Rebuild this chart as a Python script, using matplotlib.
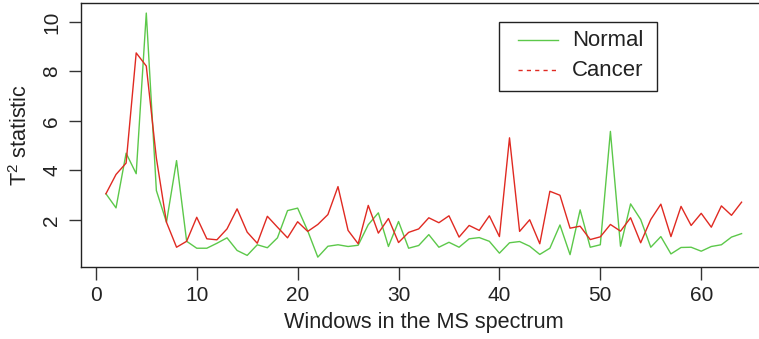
import matplotlib
matplotlib.use("Agg")
import matplotlib.pyplot as plt
from matplotlib.lines import Line2D
from matplotlib.patches import Rectangle
import numpy as np

plt.rcParams['font.family'] = ['Liberation Sans', 'DejaVu Sans']
plt.rcParams['mathtext.fontset'] = 'custom'
plt.rcParams['mathtext.rm'] = 'Liberation Sans'
plt.rcParams['mathtext.default'] = 'regular'

windows = list(range(1, 65))
normal = [3.06, 2.49, 4.70, 3.87, 10.36, 3.19, 1.91, 4.40, 1.14, 0.86,
          0.86, 1.06, 1.28, 0.77, 0.57, 1.00, 0.88, 1.28, 2.38, 2.48,
          1.56, 0.50, 0.94, 1.00, 0.93, 0.98, 1.81, 2.29, 0.93, 1.94,
          0.86, 0.97, 1.41, 0.90, 1.10, 0.90, 1.24, 1.29, 1.14, 0.66,
          1.08, 1.13, 0.94, 0.61, 0.86, 1.80, 0.60, 2.41, 0.90, 1.00,
          5.58, 0.94, 2.65, 2.02, 0.90, 1.33, 0.63, 0.89, 0.90, 0.74,
          0.93, 1.00, 1.31, 1.45]
cancer = [3.06, 3.84, 4.30, 8.75, 8.22, 4.50, 1.91, 0.90, 1.14, 2.11,
          1.24, 1.20, 1.64, 2.45, 1.51, 1.06, 2.15, 1.71, 1.28, 1.93,
          1.54, 1.82, 2.22, 3.35, 1.58, 1.04, 2.59, 1.47, 2.06, 1.09,
          1.50, 1.64, 2.09, 1.89, 2.17, 1.31, 1.78, 1.58, 2.17, 1.33,
          5.32, 1.54, 2.01, 1.04, 3.16, 3.00, 1.67, 1.75, 1.21, 1.32,
          1.82, 1.55, 2.09, 1.08, 2.02, 2.64, 1.33, 2.55, 1.78, 2.27,
          1.71, 2.57, 2.19, 2.72]
series_names = ['Normal', 'Cancer']
xticks = [0, 10, 20, 30, 40, 50, 60]
yticks = [2, 4, 6, 8, 10]

green = '#5cc84a'
red = '#e02a22'
ink = '#222222'

W, H = 759, 339
fig = plt.figure(figsize=(W / 100, H / 100), dpi=100)
left, right, top, bottom = 80.5, 767.0, 3.3, 266.9
ax = fig.add_axes([left / W, 1 - bottom / H, (right - left) / W, (bottom - top) / H])

ax.plot(windows, normal, color=green, lw=1.0)
ax.plot(windows, cancer, color=red, lw=1.0)

xs = np.array(windows)
allv = np.array(normal + cancer)
ax.set_xlim(xs.min() - 0.04 * (xs.max() - xs.min()), xs.max() + 0.04 * (xs.max() - xs.min()))
ax.set_ylim(allv.min() - 0.04 * (allv.max() - allv.min()), allv.max() + 0.04 * (allv.max() - allv.min()))

ax.set_xticks(xticks)
ax.set_yticks(yticks)
ax.set_yticklabels([str(v) for v in yticks], rotation=90, va='center')
ax.tick_params(direction='out', length=9, width=1, color='#333333', labelsize=15,
               labelcolor=ink, pad=5)
ax.tick_params(axis='y', pad=5)
for s in ax.spines.values():
    s.set_linewidth(1.0)
    s.set_color(ink)

ax.set_xlabel('Windows in the MS spectrum', fontsize=15.6, color=ink, labelpad=5)
ax.set_ylabel('T$^2$ statistic', fontsize=15.6, color=ink, labelpad=7)

# legend box (drawn in figure pixel coordinates)
def fx(px):
    return px / W

def fy(py):
    return 1 - py / H

fig.add_artist(Rectangle((fx(499), fy(90.7)), fx(657) - fx(499), fy(22.3) - fy(90.7),
                         transform=fig.transFigure, fill=False, edgecolor=ink, lw=1.0))
leg_colors = [green, red]
leg_styles = ['-', (0, (3, 3))]
for i, (name, c, ls) in enumerate(zip(series_names, leg_colors, leg_styles)):
    yrow = 40 + 30 * i
    fig.add_artist(Line2D([fx(518), fx(558)], [fy(yrow), fy(yrow)], transform=fig.transFigure,
                          color=c, lw=1.0, ls=ls))
    fig.text(fx(572), fy(yrow), name, fontsize=15.9, color=ink, va='center', ha='left')

fig.savefig('out.png', dpi=100)
